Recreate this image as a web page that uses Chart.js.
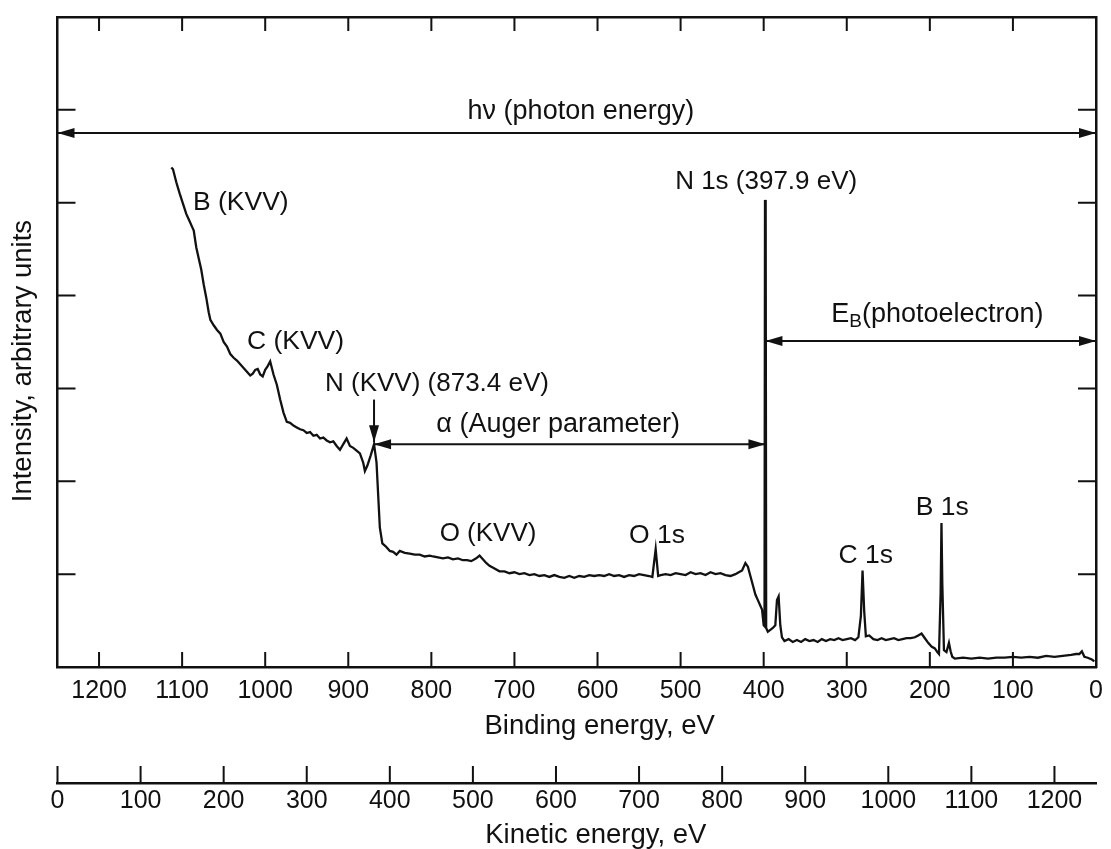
<!DOCTYPE html>
<html>
<head>
<meta charset="utf-8">
<title>XPS survey spectrum</title>
<script src="https://cdn.jsdelivr.net/npm/chart.js@4.4.1/dist/chart.umd.min.js"></script>
<style>
  html, body { margin: 0; padding: 0; background: #fff; }
  canvas { display: block; }
</style>
</head>
<body>
<canvas id="xps" width="1111" height="849"></canvas>
<script>
'use strict';

// Spectrum: binding energy (eV) and intensity (in y-tick units)
const bindingEnergy = [
  1113, 1111, 1107, 1103, 1099, 1095, 1091, 1088, 1086, 1083, 1080, 1077, 1074, 1071, 1068, 1066,
  1062, 1058, 1054, 1050, 1046, 1042, 1038, 1034, 1030, 1026, 1022, 1018, 1015, 1012, 1009, 1006,
  1003, 1000, 997, 994, 990, 986, 982, 978, 974, 970, 966, 962, 958, 954, 950, 946, 942, 938, 934,
  930, 926, 922, 918, 914, 910, 906, 902, 898, 894, 890, 886, 882, 880, 877, 873, 869, 866, 862,
  859, 855, 850, 846, 842, 838, 832, 826, 820, 814, 808, 802, 798, 792, 786, 780, 774, 768, 762,
  757, 752, 746, 742, 738, 734, 730, 724, 718, 712, 706, 700, 694, 688, 682, 676, 670, 664, 658,
  652, 646, 640, 634, 628, 622, 616, 610, 604, 598, 592, 586, 580, 574, 568, 562, 556, 550, 544,
  538, 534, 530, 527, 524, 518, 512, 506, 500, 494, 488, 482, 476, 470, 464, 458, 452, 446, 440,
  434, 430, 426, 422, 419, 416, 413, 410, 407, 404, 402, 400, 399, 398.4, 397.6, 397, 395, 392, 389, 386,
  384, 382, 380, 378, 375, 370, 365, 360, 355, 350, 345, 340, 335, 330, 325, 320, 315, 310, 305,
  300, 295, 290, 286, 283, 281, 279, 277, 273, 268, 263, 258, 253, 248, 243, 238, 233, 228, 223,
  218, 214, 210, 206, 202, 198, 194, 191, 189, 187, 186, 185, 183, 180, 177, 175, 173, 170, 160,
  150, 140, 130, 120, 110, 100, 90, 80, 70, 60, 50, 40, 30, 24, 20, 17, 14, 10, 5, 2
];
const intensity = [
  5.38, 5.36, 5.22, 5.10, 4.99, 4.88, 4.80, 4.74, 4.70, 4.52, 4.40, 4.28, 4.12, 3.98, 3.82, 3.74,
  3.68, 3.63, 3.59, 3.50, 3.45, 3.37, 3.33, 3.30, 3.26, 3.22, 3.18, 3.14, 3.16, 3.20, 3.21, 3.15,
  3.13, 3.20, 3.24, 3.29, 3.15, 3.04, 2.88, 2.74, 2.64, 2.63, 2.60, 2.58, 2.56, 2.55, 2.52, 2.53, 2.49, 2.50, 2.46,
  2.47, 2.44, 2.42, 2.43, 2.38, 2.34, 2.40, 2.46, 2.38, 2.36, 2.33, 2.30, 2.20, 2.11, 2.17, 2.28, 2.40, 2.20, 1.50,
  1.33, 1.30, 1.25, 1.24, 1.21, 1.25, 1.23, 1.22, 1.21, 1.21, 1.19, 1.20, 1.19, 1.18, 1.17, 1.18, 1.16, 1.17, 1.15,
  1.15, 1.14, 1.17, 1.20, 1.16, 1.12, 1.09, 1.06, 1.03, 1.03, 1.01, 1.02, 1.00, 1.01, 0.99, 1.00, 0.98, 0.99, 0.97,
  0.99, 0.97, 0.96, 0.98, 0.96, 0.98, 0.97, 0.99, 0.98, 0.99, 0.98, 1.00, 0.98, 0.99, 0.97, 0.99, 0.98, 1.00, 0.99,
  0.98, 0.97, 1.27, 0.98, 0.99, 1.00, 0.99, 1.01, 1.00, 0.99, 1.02, 1.00, 1.01, 0.99, 1.02, 1.00, 1.01, 0.99, 0.98,
  1.00, 1.02, 1.04, 1.12, 1.08, 0.98, 0.88, 0.78, 0.72, 0.66, 0.62, 0.45, 0.44, 5.03, 4.95, 0.42, 0.38, 0.40, 0.42, 0.45,
  0.72, 0.76, 0.45, 0.32, 0.28, 0.30, 0.27, 0.29, 0.27, 0.30, 0.28, 0.29, 0.27, 0.30, 0.28, 0.30, 0.29, 0.31, 0.29,
  0.30, 0.31, 0.29, 0.32, 0.55, 1.04, 0.60, 0.33, 0.34, 0.30, 0.29, 0.31, 0.29, 0.30, 0.31, 0.29, 0.30, 0.31, 0.31,
  0.32, 0.34, 0.36, 0.31, 0.26, 0.22, 0.20, 0.16, 0.14, 0.80, 1.55, 0.90, 0.18, 0.16, 0.26, 0.17, 0.11, 0.09, 0.10,
  0.09, 0.10, 0.09, 0.10, 0.10, 0.11, 0.10, 0.11, 0.10, 0.12, 0.11, 0.12, 0.13, 0.14, 0.14, 0.17, 0.11, 0.10, 0.08, 0.06
];
const bindingTicks = [0, 100, 200, 300, 400, 500, 600, 700, 800, 900, 1000, 1100, 1200];
const kineticTicks = [0, 100, 200, 300, 400, 500, 600, 700, 800, 900, 1000, 1100, 1200];
const intensityTicks = [0, 1, 2, 3, 4, 5, 6, 7];

const INK = '#111';
const FONT = "'Liberation Sans', Arial, Helvetica, sans-serif";

// labels and arrows, placed in data coordinates (eV, intensity)
const labels = [
  {text: 'h\u03bd (photon energy)', x: 620, y: 5.98, align: 'center', size: 27},
  {text: 'B (KVV)', x: 1087, y: 5.0, align: 'left', size: 26.5},
  {text: 'C (KVV)', x: 1022, y: 3.5, align: 'left', size: 26.5},
  {text: 'N (KVV) (873.4 eV)', x: 928, y: 3.05, align: 'left', size: 26},
  {text: '\u03b1 (Auger parameter)', x: 794, y: 2.61, align: 'left', size: 27},
  {text: 'N 1s (397.9 eV)', x: 397, y: 5.22, align: 'center', size: 26},
  {text: 'O (KVV)', x: 790, y: 1.43, align: 'left', size: 26},
  {text: 'O 1s', x: 528.5, y: 1.41, align: 'center', size: 26.5},
  {text: 'C 1s', x: 277, y: 1.2, align: 'center', size: 26.5},
  {text: 'B 1s', x: 185, y: 1.72, align: 'center', size: 26.5}
];
const arrows = [
  {from: [1250, 5.75], to: [0, 5.75], heads: 'both'},
  {from: [397.9, 3.51], to: [0, 3.51], heads: 'both'},
  {from: [869, 2.40], to: [397.9, 2.40], heads: 'both'},
  {from: [869, 2.88], to: [869, 2.42], heads: 'end'}
];

const TICK_LEN = {x: 15, xTop: 14, y: 18, yRight: 18, ke: 17};

function setTicks(values) {
  return scale => { scale.ticks = values.map(v => ({value: v})); };
}
function fixHeight(h) {
  return scale => { scale.height = h; };
}
function fixWidth(w) {
  return scale => { scale.width = w; };
}

function head(ctx, x, y, angle) {
  ctx.save();
  ctx.translate(x, y);
  ctx.rotate(angle);
  ctx.beginPath();
  ctx.moveTo(0, 0);
  ctx.lineTo(-17, -5);
  ctx.lineTo(-17, 5);
  ctx.closePath();
  ctx.fill();
  ctx.restore();
}

const innerTicks = {
  id: 'innerTicks',
  afterDraw(chart) {
    const {ctx, scales} = chart;
    ctx.save();
    ctx.strokeStyle = INK;
    ctx.lineWidth = 2;
    ctx.beginPath();
    Object.keys(TICK_LEN).forEach(id => {
      const s = scales[id], len = TICK_LEN[id];
      s.ticks.forEach(t => {
        const p = s.getPixelForValue(t.value);
        if (s.position === 'bottom') { ctx.moveTo(p, s.top); ctx.lineTo(p, s.top - len); }
        else if (s.position === 'top') { ctx.moveTo(p, s.bottom); ctx.lineTo(p, s.bottom + len); }
        else if (s.position === 'left') { ctx.moveTo(s.right, p); ctx.lineTo(s.right + len, p); }
        else { ctx.moveTo(s.left, p); ctx.lineTo(s.left - len, p); }
      });
    });
    ctx.stroke();
    ctx.restore();
  }
};

const notes = {
  id: 'notes',
  afterDatasetsDraw(chart) {
    const {ctx, scales: {x, y}} = chart;
    ctx.save();
    ctx.fillStyle = INK;
    ctx.strokeStyle = INK;
    ctx.lineWidth = 2;
    arrows.forEach(a => {
      const x1 = x.getPixelForValue(a.from[0]), y1 = y.getPixelForValue(a.from[1]);
      const x2 = x.getPixelForValue(a.to[0]), y2 = y.getPixelForValue(a.to[1]);
      ctx.beginPath();
      ctx.moveTo(x1, y1);
      ctx.lineTo(x2, y2);
      ctx.stroke();
      const ang = Math.atan2(y2 - y1, x2 - x1);
      head(ctx, x2, y2, ang);
      if (a.heads === 'both') head(ctx, x1, y1, ang + Math.PI);
    });

    ctx.textBaseline = 'middle';
    labels.forEach(l => {
      ctx.font = l.size + 'px ' + FONT;
      ctx.textAlign = l.align;
      ctx.fillText(l.text, x.getPixelForValue(l.x), y.getPixelForValue(l.y));
    });

    // E_B (photoelectron) with subscript
    let px = x.getPixelForValue(318.6);
    const py = y.getPixelForValue(3.8);
    ctx.textAlign = 'left';
    ctx.font = '27px ' + FONT;
    ctx.fillText('E', px, py);
    px += ctx.measureText('E').width;
    ctx.font = '19px ' + FONT;
    ctx.fillText('B', px, py + 8);
    px += ctx.measureText('B').width;
    ctx.font = '27px ' + FONT;
    ctx.fillText('(photoelectron)', px, py);
    ctx.restore();
  }
};

Chart.defaults.font.family = FONT;
Chart.defaults.font.size = 25;
Chart.defaults.color = INK;

const tickFont = {size: 25, lineHeight: 1};
const titleFont = {size: 27.5, lineHeight: 1};
const frame = {display: true, color: INK, width: 2.5};

new Chart(document.getElementById('xps'), {
  type: 'line',
  data: {
    datasets: [{
      data: bindingEnergy.map((e, i) => ({x: e, y: intensity[i]})),
      borderColor: INK,
      borderWidth: 2.3,
      pointRadius: 0,
      tension: 0,
      fill: false
    }]
  },
  options: {
    responsive: false,
    animation: false,
    events: [],
    layout: {autoPadding: false, padding: {left: 0, right: 15, top: 17, bottom: 0}},
    plugins: {legend: {display: false}, tooltip: {enabled: false}},
    scales: {
      x: {
        type: 'linear', position: 'bottom', min: 0, max: 1250, reverse: true, weight: 0,
        afterBuildTicks: setTicks(bindingTicks),
        afterFit: fixHeight(116),
        grid: {display: false, drawTicks: false},
        border: frame,
        ticks: {autoSkip: false, maxRotation: 0, padding: 12, font: tickFont, callback: v => String(v)},
        title: {display: true, text: '      Binding energy, eV', font: titleFont, padding: {top: 0, bottom: 42.75}}
      },
      ke: {
        type: 'linear', position: 'bottom', min: 0, max: 1250, weight: 1,
        afterBuildTicks: setTicks(kineticTicks),
        afterFit: fixHeight(66),
        grid: {display: false, drawTicks: false},
        border: frame,
        ticks: {autoSkip: false, maxRotation: 0, padding: 6, font: tickFont, callback: v => String(v)},
        title: {display: true, text: '     Kinetic energy, eV', font: titleFont, padding: {top: 0, bottom: 0}}
      },
      xTop: {
        type: 'linear', position: 'top', min: 0, max: 1250, reverse: true,
        afterBuildTicks: setTicks(bindingTicks),
        afterFit: fixHeight(0),
        grid: {display: false, drawTicks: false},
        border: frame,
        ticks: {display: false}
      },
      y: {
        type: 'linear', position: 'left', min: 0, max: 7,
        afterBuildTicks: setTicks(intensityTicks),
        afterFit: fixWidth(57.5),
        grid: {display: false, drawTicks: false},
        border: frame,
        ticks: {display: false},
        title: {display: true, text: 'Intensity, arbitrary units     ', font: titleFont, padding: {top: 9.25, bottom: 0}}
      },
      yRight: {
        type: 'linear', position: 'right', min: 0, max: 7,
        afterBuildTicks: setTicks(intensityTicks),
        afterFit: fixWidth(0),
        grid: {display: false, drawTicks: false},
        border: frame,
        ticks: {display: false}
      }
    }
  },
  plugins: [innerTicks, notes]
});
</script>
</body>
</html>
